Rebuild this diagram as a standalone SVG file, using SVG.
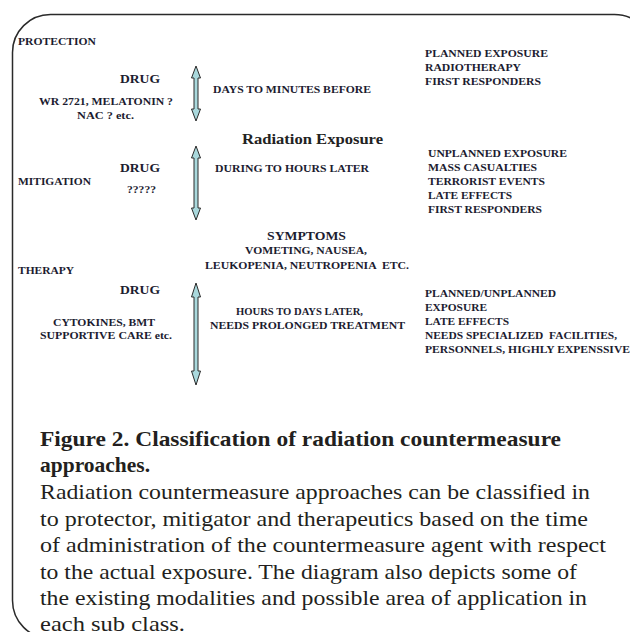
<svg xmlns="http://www.w3.org/2000/svg" width="630" height="632" viewBox="0 0 630 632">
<defs>
<style>
.t{font-weight:bold;font-size:11px;fill:#1c1c30}
.d{font-weight:bold;font-size:13px;fill:#1c1c30}
.rx{font-weight:bold;font-size:15px;fill:#222}
.ch{font-weight:bold;font-size:21px;fill:#231f20}
.cb{font-size:21px;fill:#231f20}
.arr{fill:#a9d8dc;stroke:#2a2a2a;stroke-width:1}
</style>
</defs>
<rect x="0" y="0" width="630" height="632" fill="#ffffff"/>
<rect id="frame" x="12.5" y="14.5" width="640" height="624" rx="38" ry="38" fill="none" stroke="#2a2a2a" stroke-width="1.5"/>

<g id="connectors">
<polygon class="arr" points="196,66 200.5,78 198,78 198,109 200.5,109 196,121 191.5,109 194,109 194,78 191.5,78"/>
<polygon class="arr" points="196,146 200.5,158 198,158 198,208 200.5,208 196,220 191.5,208 194,208 194,158 191.5,158"/>
<polygon class="arr" points="196,283 200.5,297 198,297 198,371 200.5,371 196,385 191.5,371 194,371 194,297 191.5,297"/>
</g>

<g font-family="Liberation Serif">
<g id="protection">
<text class="t" x="18" y="45" textLength="78" lengthAdjust="spacingAndGlyphs">PROTECTION</text>
</g>
<g id="drug1">
<text class="d" x="120" y="83" textLength="40" lengthAdjust="spacingAndGlyphs">DRUG</text>
<text class="t" x="39" y="105" textLength="134" lengthAdjust="spacingAndGlyphs">WR 2721, MELATONIN ?</text>
<text class="t" x="77" y="119" textLength="57" lengthAdjust="spacingAndGlyphs">NAC ? etc.</text>
</g>
<g id="time1">
<text class="t" x="213" y="93" textLength="158" lengthAdjust="spacingAndGlyphs">DAYS TO MINUTES BEFORE</text>
</g>
<g id="apps1">
<text class="t" x="425" y="57" textLength="123" lengthAdjust="spacingAndGlyphs">PLANNED EXPOSURE</text>
<text class="t" x="425" y="71" textLength="96" lengthAdjust="spacingAndGlyphs">RADIOTHERAPY</text>
<text class="t" x="425" y="85" textLength="116" lengthAdjust="spacingAndGlyphs">FIRST RESPONDERS</text>
</g>
<g id="exposure">
<text class="rx" x="242" y="144" textLength="141" lengthAdjust="spacingAndGlyphs">Radiation Exposure</text>
</g>
<g id="mitigation">
<text class="t" x="18" y="185" textLength="73" lengthAdjust="spacingAndGlyphs">MITIGATION</text>
</g>
<g id="drug2">
<text class="d" x="120" y="172" textLength="40" lengthAdjust="spacingAndGlyphs">DRUG</text>
<text class="t" x="127" y="193" textLength="29" lengthAdjust="spacingAndGlyphs">?????</text>
</g>
<g id="time2">
<text class="t" x="215" y="172" textLength="154" lengthAdjust="spacingAndGlyphs">DURING TO HOURS LATER</text>
</g>
<g id="apps2">
<text class="t" x="428" y="157" textLength="139" lengthAdjust="spacingAndGlyphs">UNPLANNED EXPOSURE</text>
<text class="t" x="428" y="171" textLength="109" lengthAdjust="spacingAndGlyphs">MASS CASUALTIES</text>
<text class="t" x="428" y="185" textLength="117" lengthAdjust="spacingAndGlyphs">TERRORIST EVENTS</text>
<text class="t" x="428" y="199" textLength="84" lengthAdjust="spacingAndGlyphs">LATE EFFECTS</text>
<text class="t" x="428" y="213" textLength="114" lengthAdjust="spacingAndGlyphs">FIRST RESPONDERS</text>
</g>
<g id="symptoms">
<text class="d" x="267" y="240" textLength="79" lengthAdjust="spacingAndGlyphs">SYMPTOMS</text>
<text class="t" x="245" y="254" textLength="122" lengthAdjust="spacingAndGlyphs">VOMETING, NAUSEA,</text>
<text class="t" x="205" y="269" textLength="204" lengthAdjust="spacingAndGlyphs" xml:space="preserve">LEUKOPENIA, NEUTROPENIA  ETC.</text>
</g>
<g id="therapy">
<text class="t" x="18" y="274" textLength="56" lengthAdjust="spacingAndGlyphs">THERAPY</text>
</g>
<g id="drug3">
<text class="d" x="120" y="294" textLength="40" lengthAdjust="spacingAndGlyphs">DRUG</text>
<text class="t" x="53" y="326" textLength="102" lengthAdjust="spacingAndGlyphs">CYTOKINES, BMT</text>
<text class="t" x="40" y="339" textLength="132" lengthAdjust="spacingAndGlyphs">SUPPORTIVE CARE etc.</text>
</g>
<g id="time3">
<text class="t" x="236" y="315" textLength="127" lengthAdjust="spacingAndGlyphs">HOURS TO DAYS LATER,</text>
<text class="t" x="210" y="329" textLength="195" lengthAdjust="spacingAndGlyphs">NEEDS PROLONGED TREATMENT</text>
</g>
<g id="apps3">
<text class="t" x="425" y="297" textLength="131" lengthAdjust="spacingAndGlyphs">PLANNED/UNPLANNED</text>
<text class="t" x="425" y="311" textLength="62" lengthAdjust="spacingAndGlyphs">EXPOSURE</text>
<text class="t" x="425" y="325" textLength="84" lengthAdjust="spacingAndGlyphs">LATE EFFECTS</text>
<text class="t" x="425" y="339" textLength="192" lengthAdjust="spacingAndGlyphs" xml:space="preserve">NEEDS SPECIALIZED  FACILITIES,</text>
<text class="t" x="425" y="353" textLength="205" lengthAdjust="spacingAndGlyphs">PERSONNELS, HIGHLY EXPENSSIVE</text>
</g>

<g id="caption">
<text class="ch" x="40" y="446" textLength="521" lengthAdjust="spacingAndGlyphs">Figure 2. Classification of radiation countermeasure</text>
<text class="ch" x="40" y="472" textLength="110" lengthAdjust="spacingAndGlyphs">approaches.</text>
<text class="cb" x="40" y="499" textLength="550" lengthAdjust="spacingAndGlyphs">Radiation countermeasure approaches can be classified in</text>
<text class="cb" x="40" y="526" textLength="548" lengthAdjust="spacingAndGlyphs">to protector, mitigator and therapeutics based on the time</text>
<text class="cb" x="40" y="552" textLength="566" lengthAdjust="spacingAndGlyphs">of administration of the countermeasure agent with respect</text>
<text class="cb" x="40" y="579" textLength="537" lengthAdjust="spacingAndGlyphs">to the actual exposure. The diagram also depicts some of</text>
<text class="cb" x="40" y="605" textLength="547" lengthAdjust="spacingAndGlyphs">the existing modalities and possible area of application in</text>
<text class="cb" x="40" y="631" textLength="145" lengthAdjust="spacingAndGlyphs">each sub class.</text>
</g>
</g>
</svg>
